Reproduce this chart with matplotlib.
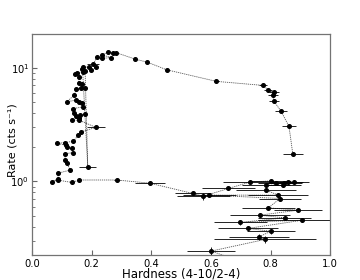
import matplotlib
matplotlib.use("Agg")
import matplotlib.pyplot as plt
import numpy as np

hardness = [0.875, 0.862, 0.836, 0.812, 0.808, 0.811, 0.792, 0.775, 0.618, 0.452,
            0.387, 0.347, 0.282, 0.273, 0.256, 0.234, 0.266, 0.234, 0.217, 0.206,
            0.214, 0.198, 0.190, 0.172, 0.167, 0.178, 0.187, 0.170, 0.150, 0.144,
            0.159, 0.156, 0.167, 0.178, 0.164, 0.148, 0.142, 0.116, 0.148, 0.159,
            0.169, 0.172, 0.139, 0.141, 0.148, 0.159, 0.176, 0.161, 0.135, 0.158,
            0.214, 0.164, 0.155, 0.139, 0.111, 0.083, 0.114, 0.118, 0.133, 0.139,
            0.111, 0.111, 0.117, 0.128, 0.086, 0.088, 0.066, 0.086, 0.133, 0.158,
            0.284, 0.395, 0.539, 0.575, 0.659, 0.732, 0.800, 0.818, 0.846, 0.860,
            0.879, 0.843, 0.785, 0.785, 0.826, 0.595, 0.832, 0.793, 0.893, 0.764,
            0.847, 0.699, 0.907, 0.724, 0.801, 0.762, 0.782, 0.601, 0.720]
hard_err = [0.033, 0.024, 0.020, 0.018, 0.016, 0.016, 0.014, 0.012, 0.008, 0.006,
            0.006, 0.006, 0.005, 0.005, 0.005, 0.005, 0.005, 0.005, 0.005, 0.020,
            0.005, 0.005, 0.005, 0.005, 0.005, 0.005, 0.028, 0.005, 0.005, 0.005,
            0.005, 0.005, 0.005, 0.005, 0.005, 0.005, 0.005, 0.005, 0.005, 0.005,
            0.005, 0.005, 0.005, 0.005, 0.005, 0.005, 0.005, 0.005, 0.005, 0.005,
            0.030, 0.006, 0.006, 0.006, 0.006, 0.006, 0.006, 0.006, 0.006, 0.006,
            0.006, 0.006, 0.006, 0.006, 0.006, 0.006, 0.006, 0.006, 0.006, 0.006,
            0.010, 0.050, 0.060, 0.090, 0.090, 0.090, 0.070, 0.060, 0.060, 0.050,
            0.050, 0.060, 0.080, 0.100, 0.100, 0.090, 0.070, 0.090, 0.080, 0.100,
            0.090, 0.090, 0.150, 0.100, 0.080, 0.100, 0.170, 0.080, 0.080]
rate = [1.73, 3.05, 4.13, 5.06, 5.71, 6.07, 6.40, 7.00, 7.60, 9.60,
        11.2, 11.9, 13.6, 13.6, 13.8, 13.0, 12.3, 12.1, 12.4, 10.8,
        10.1, 9.50, 10.1, 10.2, 9.75, 9.35, 1.33, 9.10, 9.00, 8.76,
        8.33, 7.37, 7.14, 6.67, 6.67, 6.45, 5.75, 5.02, 5.20, 5.02,
        4.92, 4.54, 4.38, 3.97, 3.78, 3.63, 3.90, 3.83, 3.46, 3.46,
        2.99, 2.73, 2.56, 2.26, 2.20, 2.16, 2.09, 1.99, 1.95, 1.79,
        1.76, 1.56, 1.44, 1.26, 1.18, 1.06, 0.99, 1.03, 0.98, 1.03,
        1.03, 0.966, 0.784, 0.742, 0.868, 0.99, 1.01, 0.96, 0.97, 0.98,
        0.98, 0.93, 0.928, 0.838, 0.758, 0.758, 0.708, 0.586, 0.559, 0.505,
        0.478, 0.436, 0.456, 0.386, 0.365, 0.326, 0.309, 0.244, 0.19]
rate_err = [0.04, 0.05, 0.05, 0.06, 0.06, 0.06, 0.06, 0.07, 0.07, 0.08,
            0.09, 0.09, 0.10, 0.10, 0.10, 0.10, 0.10, 0.10, 0.10, 0.09,
            0.09, 0.09, 0.09, 0.09, 0.09, 0.09, 0.03, 0.09, 0.09, 0.09,
            0.08, 0.08, 0.08, 0.08, 0.08, 0.08, 0.07, 0.07, 0.07, 0.07,
            0.07, 0.07, 0.06, 0.06, 0.06, 0.06, 0.06, 0.06, 0.06, 0.06,
            0.05, 0.05, 0.05, 0.05, 0.05, 0.05, 0.05, 0.04, 0.04, 0.04,
            0.04, 0.04, 0.04, 0.03, 0.03, 0.03, 0.03, 0.03, 0.03, 0.03,
            0.02, 0.02, 0.02, 0.05, 0.02, 0.02, 0.02, 0.02, 0.02, 0.02,
            0.02, 0.02, 0.02, 0.02, 0.02, 0.02, 0.02, 0.02, 0.02, 0.02,
            0.02, 0.02, 0.02, 0.02, 0.02, 0.02, 0.02, 0.02, 0.02]

x_ticks = [0.0, 0.2, 0.4, 0.6, 0.8, 1.0]
x_label = "Hardness (4-10/2-4)"
y_label = "Rate (cts s\u207b\u00b9)"

fig = plt.figure(figsize=(3.6, 2.8), dpi=100)
ax = fig.add_axes([0.089, 0.089, 0.828, 0.791])

ax.plot(hardness, rate, linestyle=(0, (1.5, 1)), color="0.35", lw=0.6, zorder=1)
ax.errorbar(hardness, rate, xerr=hard_err, yerr=rate_err, fmt="o", ms=2.6,
            color="black", ecolor="black", elinewidth=0.6, capsize=0, zorder=2)

ax.set_yscale("log")
ax.set_xlim(0.0, 1.0)
ax.set_ylim(0.225, 20)
ax.set_xticks(x_ticks)
ax.set_xticklabels([f"{t:.1f}" for t in x_ticks])
ax.tick_params(axis="both", which="both", direction="in", labelsize=7.2,
               top=False, right=False, color="0.4", pad=2.5)
ax.tick_params(axis="y", which="both", pad=2)
ax.tick_params(axis="both", which="major", length=3.5)
ax.tick_params(axis="both", which="minor", length=2)
for s in ax.spines.values():
    s.set_color("0.45")
    s.set_linewidth(0.9)
ax.set_xlabel(x_label, fontsize=8.5)
ax.set_ylabel(y_label, fontsize=8)
ax.xaxis.set_label_coords(0.5, -0.058)
ax.yaxis.set_label_coords(-0.05, 0.52)

fig.savefig("out.png", dpi=100)
